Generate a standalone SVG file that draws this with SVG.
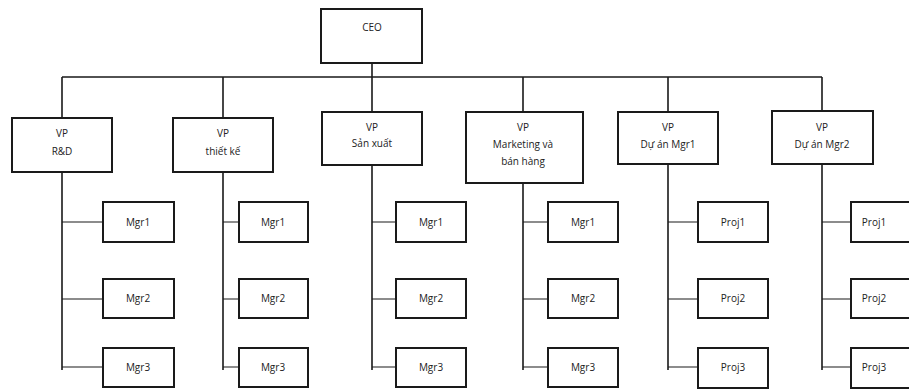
<svg xmlns="http://www.w3.org/2000/svg" width="909" height="391" viewBox="0 0 909 391">
<style>
.box{fill:#fff;stroke:#1a1a1a;stroke-width:2}
.ln{fill:none;stroke:#1a1a1a;stroke-width:1.6}
.st{fill:none;stroke:#1a1a1a;stroke-width:1.2}
text{font-family:"Open Sans","Noto Sans","Liberation Sans",sans-serif;font-size:10px;fill:#222;text-anchor:middle}
</style>
<rect width="909" height="391" fill="#fff"/>
<g id="connectors">
<path class="ln" d="M372 63V77M62 77H822M62 77V118M223 77V118M372 77V112M523 77V112M668 77V112M822 77V111"/>
<path class="ln" d="M62 172V370M223 172V370M372 165V370M523 183V370M668 164V370M822 164V370"/>
<path class="st" d="M62 222H103M62 299H103M62 367H103"/>
<path class="st" d="M223 222H239M223 299H239M223 367H239"/>
<path class="st" d="M372 222H396M372 299H396M372 367H396"/>
<path class="st" d="M523 222H548M523 299H548M523 367H548"/>
<path class="st" d="M668 222H698M668 299H698M668 367H698"/>
<path class="st" d="M822 222H851M822 299H851M822 367H851"/>
</g>
<g id="ceo"><rect class="box" x="321" y="9" width="101" height="54"/><text x="372" y="31">CEO</text></g>
<g id="vp-rd"><rect class="box" x="12" y="118" width="100" height="54"/><text x="62" y="137">VP</text><text x="62" y="155">R&amp;D</text></g>
<g id="vp-tk"><rect class="box" x="173" y="118" width="100" height="54"/><text x="223" y="137">VP</text><text x="223" y="155">thiết kế</text></g>
<g id="vp-sx"><rect class="box" x="322" y="112" width="100" height="53"/><text x="372" y="131">VP</text><text x="372" y="147">Sản xuất</text></g>
<g id="vp-mk"><rect class="box" x="466" y="112" width="117" height="71"/><text x="523" y="131">VP</text><text x="523" y="148">Marketing và</text><text x="523" y="165">bán hàng</text></g>
<g id="vp-da1"><rect class="box" x="618" y="112" width="100" height="52"/><text x="668" y="131">VP</text><text x="668" y="148">Dự án Mgr1</text></g>
<g id="vp-da2"><rect class="box" x="772" y="111" width="101" height="53"/><text x="822" y="131">VP</text><text x="822" y="148">Dự án Mgr2</text></g>
<g id="rd-m1"><rect class="box" x="103" y="202" width="71" height="40"/><text x="138" y="226">Mgr1</text></g>
<g id="rd-m2"><rect class="box" x="103" y="279" width="71" height="39"/><text x="138" y="302">Mgr2</text></g>
<g id="rd-m3"><rect class="box" x="103" y="348" width="71" height="39"/><text x="138" y="371">Mgr3</text></g>
<g id="tk-m1"><rect class="box" x="239" y="202" width="69" height="40"/><text x="273" y="226">Mgr1</text></g>
<g id="tk-m2"><rect class="box" x="239" y="279" width="69" height="39"/><text x="273" y="302">Mgr2</text></g>
<g id="tk-m3"><rect class="box" x="239" y="348" width="69" height="39"/><text x="273" y="371">Mgr3</text></g>
<g id="sx-m1"><rect class="box" x="396" y="202" width="70" height="40"/><text x="431" y="226">Mgr1</text></g>
<g id="sx-m2"><rect class="box" x="396" y="279" width="70" height="39"/><text x="431" y="302">Mgr2</text></g>
<g id="sx-m3"><rect class="box" x="396" y="348" width="70" height="39"/><text x="431" y="371">Mgr3</text></g>
<g id="mk-m1"><rect class="box" x="548" y="202" width="70" height="40"/><text x="583" y="226">Mgr1</text></g>
<g id="mk-m2"><rect class="box" x="548" y="279" width="70" height="39"/><text x="583" y="302">Mgr2</text></g>
<g id="mk-m3"><rect class="box" x="548" y="348" width="70" height="39"/><text x="583" y="371">Mgr3</text></g>
<g id="da1-p1"><rect class="box" x="698" y="202" width="70" height="40"/><text x="733" y="226">Proj1</text></g>
<g id="da1-p2"><rect class="box" x="698" y="279" width="70" height="39"/><text x="733" y="302">Proj2</text></g>
<g id="da1-p3"><rect class="box" x="698" y="348" width="70" height="40"/><text x="733" y="371">Proj3</text></g>
<g id="da2-p1"><rect class="box" x="851" y="202" width="70" height="40"/><text x="874" y="226">Proj1</text></g>
<g id="da2-p2"><rect class="box" x="851" y="279" width="70" height="39"/><text x="874" y="302">Proj2</text></g>
<g id="da2-p3"><rect class="box" x="851" y="348" width="70" height="40"/><text x="874" y="371">Proj3</text></g>
</svg>
